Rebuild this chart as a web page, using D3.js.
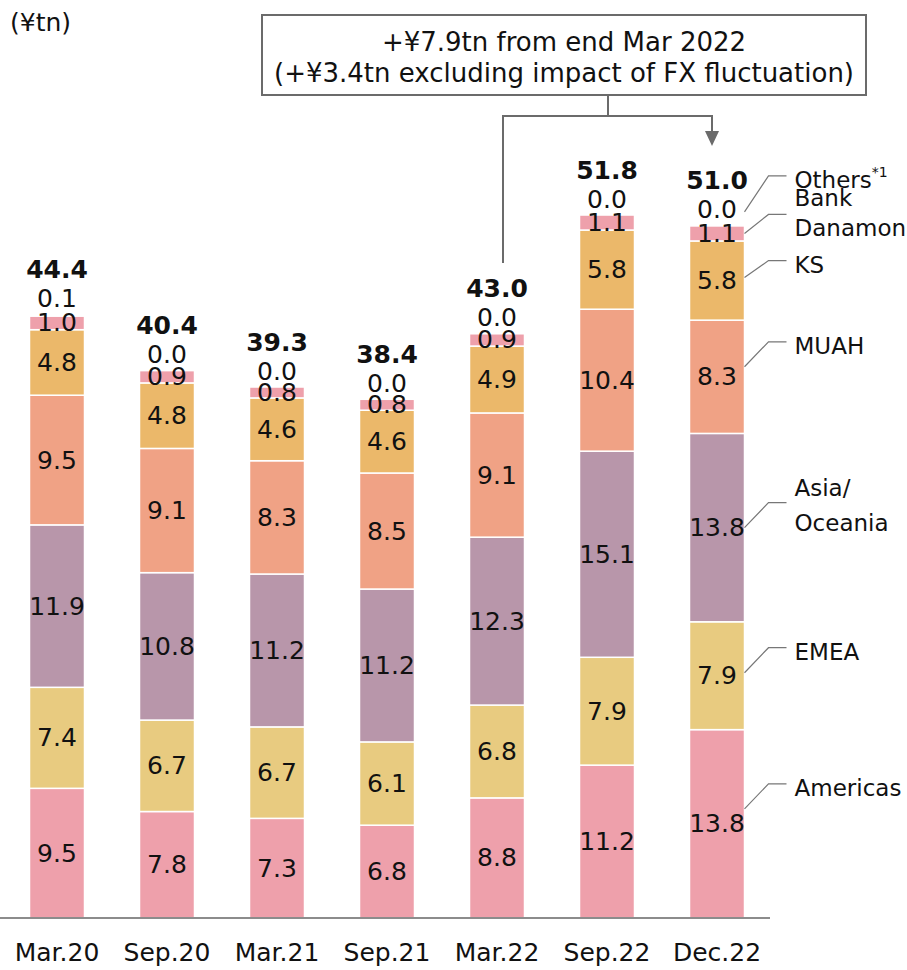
<!DOCTYPE html>
<html>
<head>
<meta charset="utf-8">
<script src="https://cdn.jsdelivr.net/npm/d3@7"></script>
<style>
  body { margin: 0; background: #fff; }
  svg { display: block; font-family: "DejaVu Sans", Verdana, sans-serif; }
</style>
</head>
<body>
<svg></svg>
<script>
const periods = ["Mar.20", "Sep.20", "Mar.21", "Sep.21", "Mar.22", "Sep.22", "Dec.22"]
const seriesNames = ["Americas", "EMEA", "Asia/Oceania", "MUAH", "KS", "Bank Danamon", "Others"]

const americas = [9.5, 7.8, 7.3, 6.8, 8.8, 11.2, 13.8]
const emea = [7.4, 6.7, 6.7, 6.1, 6.8, 7.9, 7.9]
const asiaOceania = [11.9, 10.8, 11.2, 11.2, 12.3, 15.1, 13.8]
const muah = [9.5, 9.1, 8.3, 8.5, 9.1, 10.4, 8.3]
const ks = [4.8, 4.8, 4.6, 4.6, 4.9, 5.8, 5.8]
const bankDanamon = [1.0, 0.9, 0.8, 0.8, 0.9, 1.1, 1.1]
const others = [0.1, 0.0, 0.0, 0.0, 0.0, 0.0, 0.0]
const totals = ["44.4", "40.4", "39.3", "38.4", "43.0", "51.8", "51.0"]

const colors = ["#eea0ab", "#e8cb80", "#b896aa", "#f0a285", "#ebb86a", "#eea0ab", "#eea0ab"]

const W = 907, H = 970
const svg = d3.select("svg").attr("width", W).attr("height", H)

// build rows for the stack generator
const allSeries = [americas, emea, asiaOceania, muah, ks, bankDanamon, others]
const rows = periods.map((p, i) => {
    let r = { period: p }
    seriesNames.forEach((s, j) => { r[s] = allSeries[j][i] })
    return r
})
const stacked = d3.stack().keys(seriesNames)(rows)

const x = d3.scaleBand()
    .domain(periods)
    .range([2, 772])
    .paddingInner(0.5)
    .paddingOuter(0.25)

const baseY = 918
const y = d3.scaleLinear().domain([0, 60]).range([baseY, baseY - 60 * 13.65])

const color = d3.scaleOrdinal().domain(seriesNames).range(colors)

// bars
svg.append("g")
    .selectAll("g")
    .data(stacked)
    .enter().append("g")
        .attr("fill", d => color(d.key))
        .selectAll("rect")
        .data(d => d)
        .enter().append("rect")
            .attr("x", d => x(d.data.period))
            .attr("y", d => y(d[1]))
            .attr("width", x.bandwidth())
            .attr("height", d => Math.max(0, y(d[0]) - y(d[1])))
            .attr("stroke", "#fff")
            .attr("stroke-width", 1.5)

// segment labels (all but Others)
stacked.slice(0, 6).forEach(s => {
    svg.append("g").selectAll("text")
        .data(s)
        .enter().append("text")
        .attr("x", d => x(d.data.period) + x.bandwidth() / 2)
        .attr("y", d => (y(d[0]) + y(d[1])) / 2)
        .attr("text-anchor", "middle")
        .attr("dominant-baseline", "central")
        .attr("font-size", 25)
        .attr("fill", "#111")
        .text(d => d3.format(".1f")(d[1] - d[0]))
})

// others labels and totals above bars
const topLayer = stacked[stacked.length - 1]
svg.append("g").selectAll("text")
    .data(topLayer)
    .enter().append("text")
    .attr("x", d => x(d.data.period) + x.bandwidth() / 2)
    .attr("y", d => y(d[1]) - 16)
    .attr("text-anchor", "middle")
    .attr("dominant-baseline", "central")
    .attr("font-size", 25)
    .attr("fill", "#111")
    .text((d, i) => d3.format(".1f")(others[i]))

svg.append("g").selectAll("text")
    .data(topLayer)
    .enter().append("text")
    .attr("x", d => x(d.data.period) + x.bandwidth() / 2)
    .attr("y", d => y(d[1]) - 45)
    .attr("text-anchor", "middle")
    .attr("dominant-baseline", "central")
    .attr("font-size", 25)
    .attr("font-weight", "bold")
    .attr("fill", "#111")
    .text((d, i) => totals[i])

// x axis
svg.append("line")
    .attr("x1", 0).attr("x2", 770)
    .attr("y1", baseY).attr("y2", baseY)
    .attr("stroke", "#8c8c8c").attr("stroke-width", 2)

svg.append("g").selectAll("text")
    .data(periods)
    .enter().append("text")
    .attr("x", d => x(d) + x.bandwidth() / 2)
    .attr("y", 952)
    .attr("text-anchor", "middle")
    .attr("dominant-baseline", "central")
    .attr("font-size", 25)
    .attr("fill", "#111")
    .text(d => d)

// unit label
svg.append("text")
    .attr("x", 10).attr("y", 22)
    .attr("dominant-baseline", "central")
    .attr("font-size", 25)
    .attr("fill", "#111")
    .text("(¥tn)")

// legend with leader lines at the last bar
const last = periods.length - 1
const barRight = x(periods[last]) + x.bandwidth()
const legendShift = { "Americas": -15, "EMEA": -3, "Asia/Oceania": 0, "MUAH": -10, "KS": -3, "Bank Danamon": 0, "Others": 0 }
const legend = svg.append("g").attr("font-size", 23).attr("fill", "#111")
stacked.forEach(s => {
    const d = s[last]
    let y0 = (y(d[0]) + y(d[1])) / 2 + legendShift[s.key]
    let rise = 25
    if (s.key === "Others") { y0 = y(d[1]) - 14; rise = 36 }
    if (s.key === "Bank Danamon") rise = 19
    if (s.key === "KS") rise = 17
    legend.append("path")
        .attr("d", `M${barRight},${y0} L${barRight + 24},${y0 - rise} L${barRight + 42},${y0 - rise}`)
        .attr("fill", "none")
        .attr("stroke", "#777")
        .attr("stroke-width", 1.2)
    const tx = barRight + 50, ty = y0 - rise
    if (s.key === "Asia/Oceania") {
        legend.append("text").attr("x", tx).attr("y", ty - 15).attr("dominant-baseline", "central").text("Asia/")
        legend.append("text").attr("x", tx).attr("y", ty + 20).attr("dominant-baseline", "central").text("Oceania")
    } else if (s.key === "Bank Danamon") {
        legend.append("text").attr("x", tx).attr("y", ty - 16).attr("dominant-baseline", "central").text("Bank")
        legend.append("text").attr("x", tx).attr("y", ty + 14).attr("dominant-baseline", "central").text("Danamon")
    } else if (s.key === "Others") {
        const t = legend.append("text").attr("x", tx).attr("y", ty + 4).attr("dominant-baseline", "central")
        t.append("tspan").text("Others")
        t.append("tspan").attr("font-size", 14).attr("dy", -8).text("*1")
    } else {
        legend.append("text").attr("x", tx).attr("y", ty + 4).attr("dominant-baseline", "central").text(s.key)
    }
})

// annotation box and arrow
const ann = svg.append("g")
ann.append("rect")
    .attr("x", 262).attr("y", 15).attr("width", 604).attr("height", 80)
    .attr("fill", "#fff").attr("stroke", "#6b6b6b").attr("stroke-width", 2)
ann.append("text").attr("x", 564).attr("y", 42).attr("text-anchor", "middle")
    .attr("dominant-baseline", "central").attr("font-size", 26).attr("fill", "#111")
    .text("+¥7.9tn from end Mar 2022")
ann.append("text").attr("x", 564).attr("y", 73).attr("text-anchor", "middle")
    .attr("dominant-baseline", "central").attr("font-size", 26).attr("fill", "#111")
    .text("(+¥3.4tn excluding impact of FX fluctuation)")

const xFrom = x("Mar.22") + x.bandwidth() / 2 + 6
const xTo = x("Dec.22") + x.bandwidth() / 2 - 5
ann.append("path")
    .attr("d", `M608,95 L608,116 M${xFrom},${y(43.0) - 68} L${xFrom},116 L${xTo},116 L${xTo},132`)
    .attr("fill", "none").attr("stroke", "#6b6b6b").attr("stroke-width", 2)
ann.append("path")
    .attr("d", `M${xTo - 7},131 L${xTo + 7},131 L${xTo},146 Z`)
    .attr("fill", "#6b6b6b")
</script>
</body>
</html>
